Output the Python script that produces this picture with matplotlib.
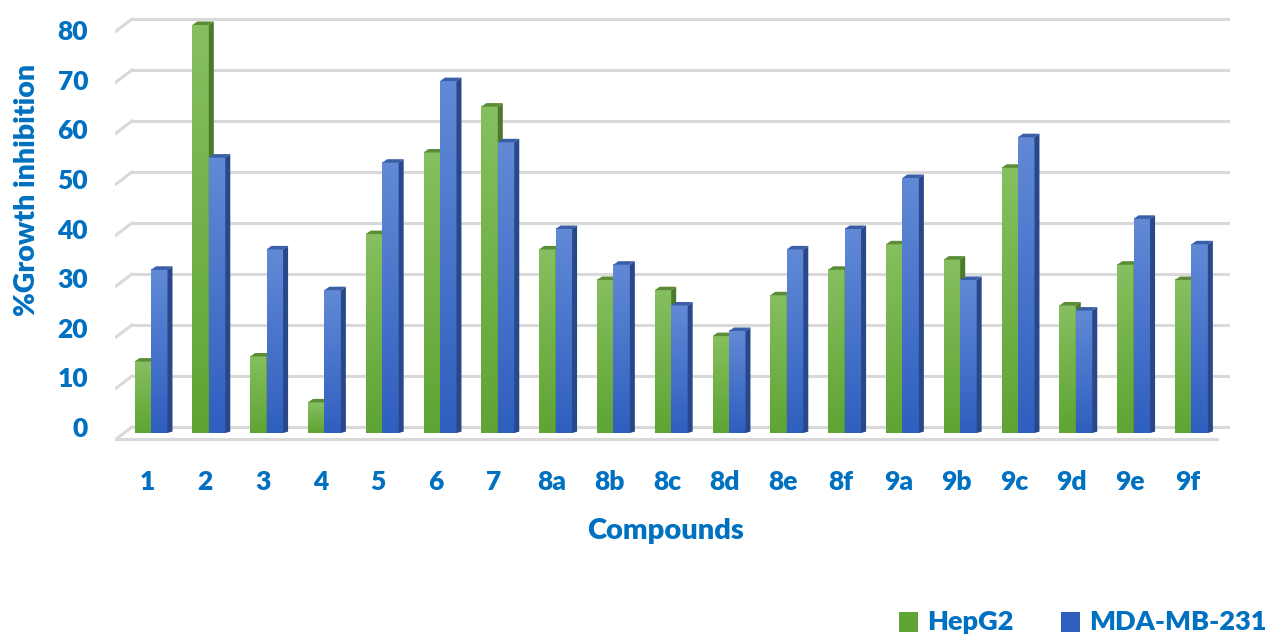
import numpy as np
import matplotlib.pyplot as plt
from matplotlib.patches import Polygon, Rectangle
from matplotlib.colors import to_rgb

compounds = ['1', '2', '3', '4', '5', '6', '7', '8a', '8b', '8c', '8d', '8e', '8f',
             '9a', '9b', '9c', '9d', '9e', '9f']
hepg2 = [14, 80, 15, 6, 39, 55, 64, 36, 30, 28, 19, 27, 32, 37, 34, 52, 25, 33, 30]
mda = [32, 54, 36, 28, 53, 69, 57, 40, 33, 25, 20, 36, 40, 50, 30, 58, 24, 42, 37]
yticks = [0, 10, 20, 30, 40, 50, 60, 70, 80]

W, H = 1269, 637
TXT = '#0070c0'
FONT = 'Lato'
WT = 'heavy'

# pixel geometry of the reference (category spacing, px per unit)
PX_X = 57.8
PX_Y = 5.1
X0 = 151      # px of first group centre
Y0 = 433      # px of value 0 (front faces)

fig = plt.figure(figsize=(W / 100, H / 100), dpi=100)
ax = fig.add_axes([115 / W, (H - 445) / H, (1230 - 115) / W, 430 / H])
ax.axis('off')

bw = 0.285          # bar width in category units
dx = 5 / PX_X       # 3d depth offset
dy = 3.5 / PX_Y
back = 6 / PX_Y     # back wall offset above front scale

# back wall gridlines + left diagonal + front floor edge
xl_front = (116 - X0) / PX_X
xl_back = (132 - X0) / PX_X
xr_back = (1230 - X0) / PX_X
xr_front = (1217 - X0) / PX_X
for v in yticks:
    ax.plot([xl_back, xr_back], [v + back, v + back], color='#d9d9d9', lw=2.2,
            solid_capstyle='butt', zorder=0)
    ax.plot([xl_front, xl_back], [v - 1.2, v + back], color='#d9d9d9', lw=2.2, zorder=0)
ax.plot([xl_front, xr_front], [-1.2, -1.2], color='#d9d9d9', lw=2.2, zorder=0)


def gradient(c_top, c_bot, n=64):
    t = np.linspace(0, 1, n)[:, None]
    a, b = np.array(to_rgb(c_bot)), np.array(to_rgb(c_top))
    return (a * (1 - t) + b * t)[:, None, :]


def bar3d(x, h, front_top, front_bot, side, top, z):
    ax.imshow(gradient(front_top, front_bot), extent=[x, x + bw, 0, h], origin='lower',
              aspect='auto', interpolation='bilinear', zorder=z)
    ax.add_patch(Polygon([(x + bw, 0), (x + bw, h), (x + bw + dx, h + dy), (x + bw + dx, dy * 0.4)],
                         closed=True, fc=side, ec='none', zorder=z))
    ax.add_patch(Polygon([(x, h), (x + bw, h), (x + bw + dx, h + dy), (x + dx, h + dy)],
                         closed=True, fc=top, ec='none', zorder=z))


green = ('#86bf5f', '#5fa434', '#4b7a2b', '#5b8c36')
blue = ('#6189d6', '#2f5fbf', '#29488a', '#3b5ea8')
for i, (g, b) in enumerate(zip(hepg2, mda)):
    bar3d(i - bw, g, *green, z=2 + i * 2)
    bar3d(i, b, *blue, z=3 + i * 2)

ax.set_xlim((115 - X0) / PX_X, (1230 - X0) / PX_X)
ax.set_ylim((Y0 - 445) / PX_Y, (Y0 - 15) / PX_Y)

# tick labels
for v in yticks:
    ax.text((88 - X0) / PX_X, 0.8 + v * 0.9725, str(v), ha='right', va='center',
            color=TXT, fontsize=19, fontweight=WT, family=FONT, clip_on=False)
for i, c in enumerate(compounds):
    ax.text(i - 0.07, (Y0 - 482) / PX_Y, c, ha='center', va='center',
            color=TXT, fontsize=19, fontweight=WT, family=FONT, clip_on=False)

fig.text(666 / W, 1 - 531 / H, 'Compounds', ha='center', va='center', color=TXT,
         fontsize=21, fontweight=WT, family=FONT)
fig.text(27 / W, 1 - 190 / H, '%Growth inhibition', ha='center', va='center', color=TXT,
         fontsize=20.5, fontweight=WT, family=FONT, rotation=90)

# legend
for x_sq, x_txt, name, col in [(899, 927, 'HepG2', green), (1061, 1089, 'MDA-MB-231', blue)]:
    fig.patches.append(Rectangle((x_sq / W, 1 - 632 / H), 19 / W, 20 / H,
                                 transform=fig.transFigure, fc=col[1], ec='none'))
    fig.text(x_txt / W, 1 - 622 / H, name, ha='left', va='center', color=TXT,
             fontsize=19.5, fontweight=WT, family=FONT)

fig.savefig('out.png', dpi=100)
